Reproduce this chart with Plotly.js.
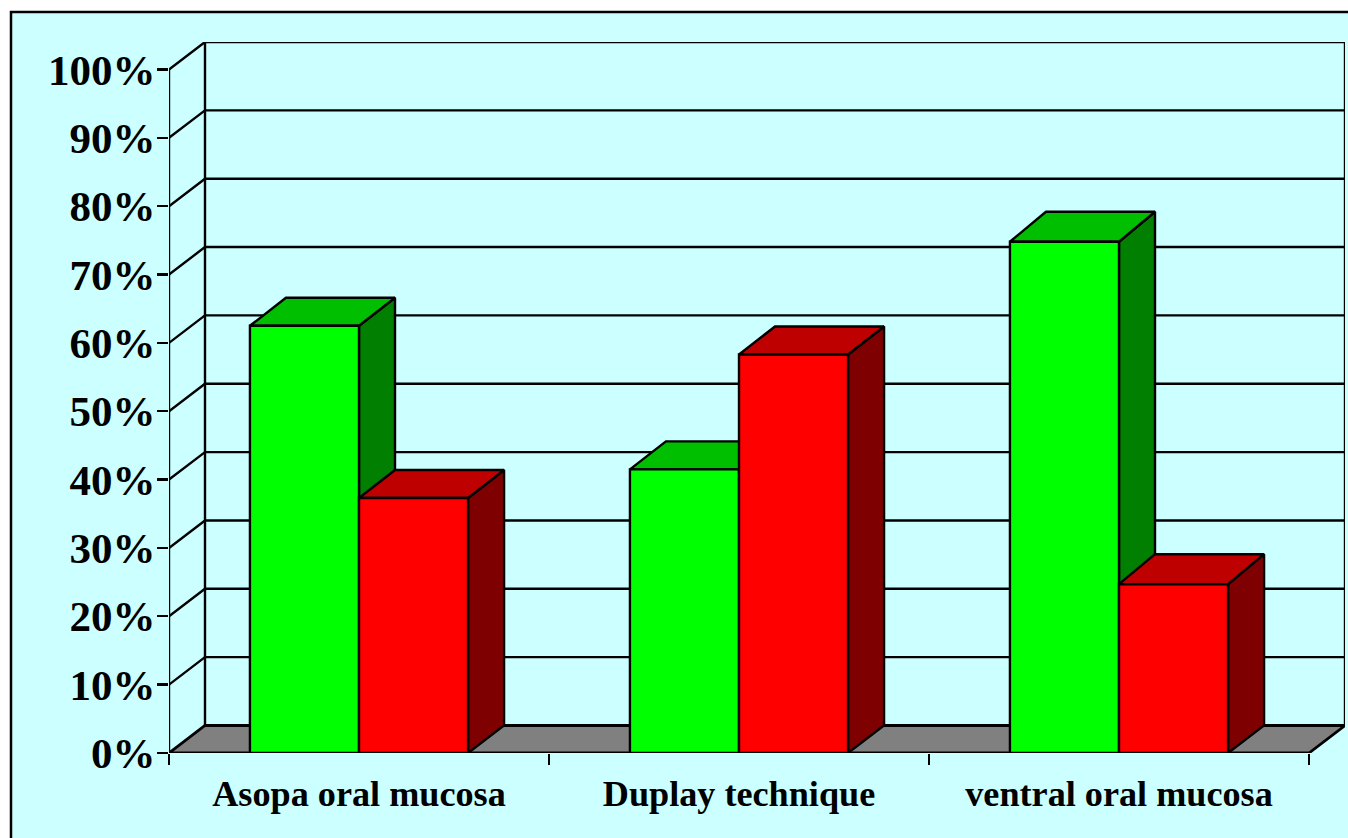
<!DOCTYPE html>
<html><head><meta charset="utf-8">
<script src="https://cdn.plot.ly/plotly-3.0.1.min.js"></script>
<style>html,body{margin:0;padding:0;background:#fff;overflow:hidden}#c{width:1348px;height:838px}</style>
</head><body><div id="c"></div>
<script>
const categories = ["Asopa oral mucosa","Duplay technique","ventral oral mucosa"];
const greenValues = [62.5,41.5,74.8];
const redValues = [37.3,58.3,24.7];
const yTicks = [0,10,20,30,40,50,60,70,80,90,100];
const yTickLabels = ["0%","10%","20%","30%","40%","50%","60%","70%","80%","90%","100%"];

const W=1348,H=838,L=169,R=1345,T=42,B=753;
const pxX=380, pxY=6.835;
const DX=36/pxX, DY=27.5/pxY;
const barDepthPx=[28,28,30];
const N=categories.length;
const xMax=(R-L)/pxX, yMax=(B-T)/pxY;
const GAP=0.426, BW=(1-GAP)/2;
const centers=categories.map((_,i)=>i+0.5);
const LW=2.4;

const base={type:'scatter',mode:'lines',hoverinfo:'skip',showlegend:false,cliponaxis:false,xaxis:'x',yaxis:'y'};
const poly=(xs,ys,fill)=>Object.assign({},base,{x:xs.concat(xs[0]),y:ys.concat(ys[0]),fill:'toself',fillcolor:fill,line:{color:'#000',width:LW}});
const traces=[];

// walls and gridlines
let gx=[],gy=[];
yTicks.forEach(v=>{ if(v>0){gx.push(0,DX,xMax,null);gy.push(v,v+DY,v+DY,null);} });
traces.push(Object.assign({},base,{x:gx,y:gy,line:{color:'#000',width:LW}}));
traces.push(Object.assign({},base,{x:[0,0,null,DX,DX,null,xMax,xMax],y:[0,100,null,DY,100+DY,null,DY,100+DY],line:{color:'#000',width:LW}}));
// floor
traces.push(Object.assign(poly([0,N,xMax,DX],[0,0,DY,DY],'#808080'),{line:{color:'#000',width:2.8}}));

// side and top faces, from the values
categories.forEach((_,i)=>{
  const dy=barDepthPx[i]/pxY;
  [[greenValues[i],0,'#00BF00','#007F00'],[redValues[i],1,'#BF0000','#7F0000']].forEach(s=>{
    const v=s[0], x0=centers[i]-BW+s[1]*BW, x1=x0+BW;
    traces.push(poly([x1,x1+DX,x1+DX,x1],[0,DY,v+dy,v],s[3]));
    traces.push(poly([x0,x1,x1+DX,x0+DX],[v,v,v+dy,v+dy],s[2]));
  });
});

// front faces
traces.push({type:'bar',x:centers,y:greenValues,xaxis:'x2',yaxis:'y2',marker:{color:'#00FF00',line:{color:'#000',width:LW}},hoverinfo:'skip',showlegend:false,cliponaxis:false});
traces.push({type:'bar',x:centers,y:redValues,xaxis:'x2',yaxis:'y2',marker:{color:'#FF0000',line:{color:'#000',width:LW}},hoverinfo:'skip',showlegend:false,cliponaxis:false});

const pw=R-L, ph=B-T;
const px=p=>(p-L)/pw, py=p=>(B-p)/ph;
const font=s=>({family:'"Liberation Serif","Times New Roman",serif',size:s,color:'#000',weight:700});

const layout={
  width:W,height:H,paper_bgcolor:'#fff',plot_bgcolor:'rgba(0,0,0,0)',showlegend:false,
  margin:{l:L,r:W-R,t:T,b:H-B,pad:0},
  barmode:'group',bargap:GAP,bargroupgap:0,
  xaxis:{range:[0,xMax],tickmode:'array',tickvals:centers,ticktext:categories,ticks:'',showgrid:false,zeroline:false,showline:false,tickfont:font(36.2),ticklabelstandoff:16,fixedrange:true},
  yaxis:{range:[0,yMax],tickmode:'array',tickvals:yTicks,ticktext:yTickLabels,ticks:'outside',ticklen:11,tickwidth:LW,tickcolor:'#000',showgrid:false,zeroline:false,showline:false,tickfont:font(43),ticklabelstandoff:-7,fixedrange:true},
  xaxis2:{range:[0,xMax],overlaying:'x',anchor:'y2',tickmode:'array',tickvals:[0,1,2,3],ticks:'outside',ticklen:11,tickwidth:LW,tickcolor:'#000',showticklabels:false,showgrid:false,zeroline:false,showline:false,fixedrange:true},
  yaxis2:{range:[0,yMax],overlaying:'y',anchor:'x2',visible:false,fixedrange:true},
  shapes:[
    {type:'rect',layer:'below',xref:'paper',yref:'paper',x0:px(11),x1:px(W+20),y0:py(12),y1:py(H+20),fillcolor:'#CCFFFF',line:{color:'#000',width:2.5}}
  ]
};
Plotly.newPlot('c',traces,layout,{displayModeBar:false,staticPlot:true});
</script></body></html>
